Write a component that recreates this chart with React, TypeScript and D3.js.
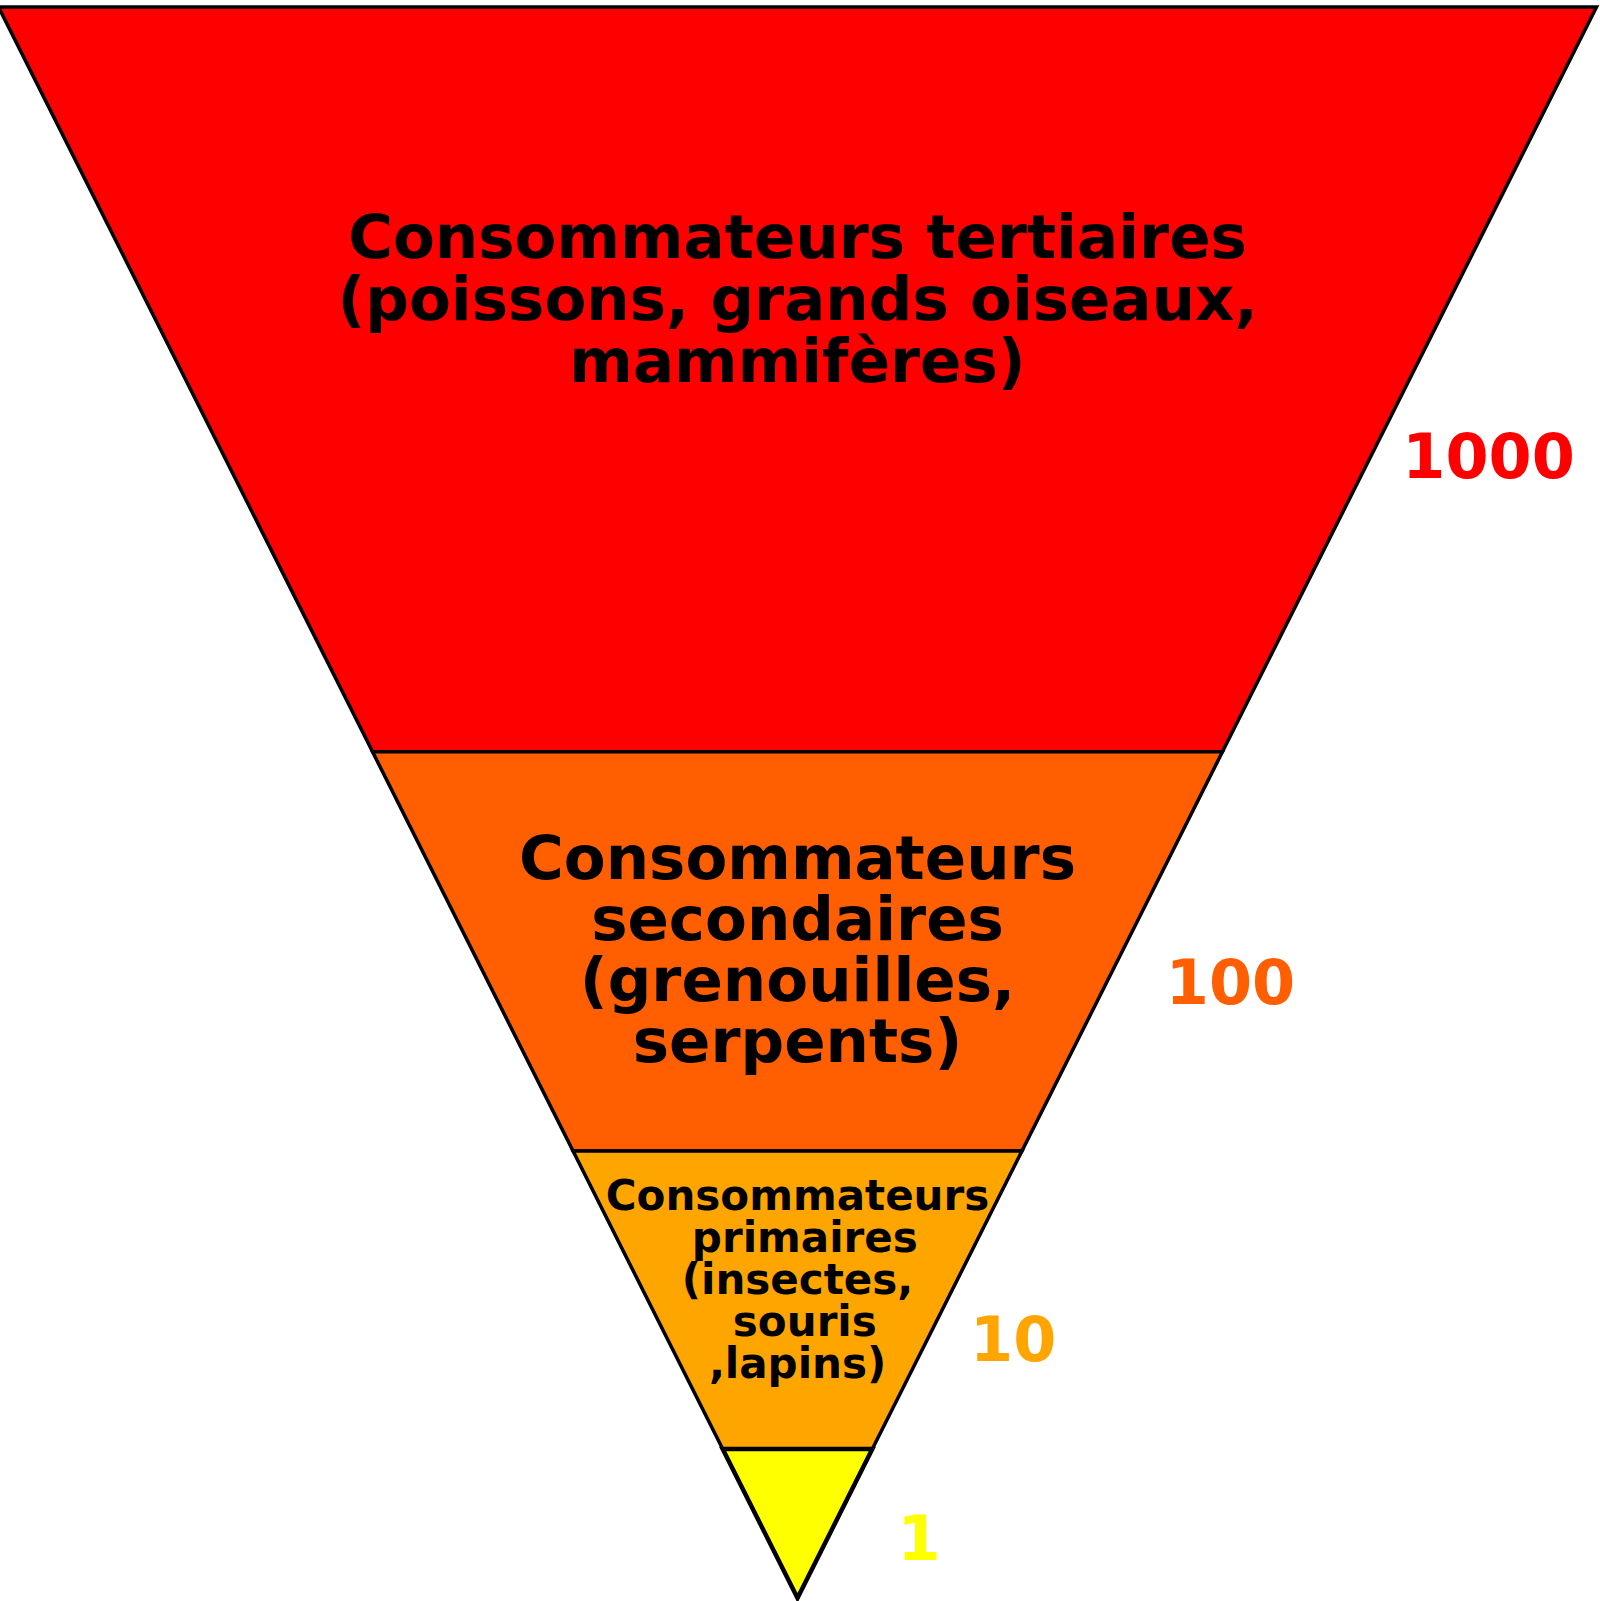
import * as d3 from "d3";

// layers listed from the tip (bottom) to the top of the inverted pyramid
const layerValues = ["1", "10", "100", "1000"];
const layerDepths = [1, 2, 2.68, 5];
const layerColors = ["#ffff00", "#ffa500", "#ff5f00", "#ff0000"];
const layerLabels = [
  [],
  ["Consommateurs", " primaires", "(insectes,", " souris", ",lapins)"],
  ["Consommateurs", "secondaires", "(grenouilles,", "serpents)"],
  ["Consommateurs tertiaires", "(poissons, grands oiseaux,", "mammifères)"],
];

// layout only
const labelFontSize = [0, 42, 61, 61];
const labelLineStep = [0, 42, 61, 62];
const labelBaselineFrac = [0, 0.198, 0.318, 0.337];
const strokeWidths = [4.5, 3.5, 3.5, 3.5];
const valueLabelPos = [
  { x: 0.125, d: 0.255 },
  { x: 0.216, d: 1.59 },
  { x: 0.461, d: 3.99 },
  { x: 0.757, d: 7.52 },
];

const W = 1600;
const H = 1601;
const FONT = "'DejaVu Sans', Verdana, sans-serif";

export default function App() {
  const total = d3.sum(layerDepths);
  const y = d3.scaleLinear().domain([0, total]).range([1598, 7]);
  const x = d3.scaleLinear().domain([-1, 1]).range([-1.5, 1596.5]);
  const half = (d: number) => d / total;

  const cum = d3.cumsum(layerDepths);
  const layers = layerDepths.map((dep, i) => {
    const d0 = i === 0 ? 0 : cum[i - 1];
    const d1 = cum[i];
    return { i, d0, d1 };
  });

  const polygon = (d0: number, d1: number) => {
    const pts: [number, number][] = [
      [x(-half(d1)), y(d1)],
      [x(half(d1)), y(d1)],
      [x(half(d0)), y(d0)],
      [x(-half(d0)), y(d0)],
    ];
    if (d0 === 0) pts.pop();
    return d3.line()(pts) + "Z";
  };

  return (
    <svg
      width={W}
      height={H}
      style={{ position: "absolute", left: 0, top: 0, display: "block", background: "#fff" }}
    >
      {layers
        .slice()
        .reverse()
        .map((l) => (
          <path
            key={"p" + l.i}
            d={polygon(l.d0, l.d1)}
            fill={layerColors[l.i]}
            stroke="#000"
            strokeWidth={strokeWidths[l.i]}
            strokeLinejoin="miter"
          />
        ))}
      {layers.map((l) => {
        const lines = layerLabels[l.i];
        if (!lines.length) return null;
        const fs = labelFontSize[l.i];
        const top = y(l.d1);
        const base = top + (y(l.d0) - top) * labelBaselineFrac[l.i];
        return (
          <text
            key={"t" + l.i}
            x={x(0)}
            y={base}
            textAnchor="middle"
            fontFamily={FONT}
            fontWeight="bold"
            fontSize={fs}
            fill="#000"
            style={{ whiteSpace: "pre" }}
          >
            {lines.map((s, j) => (
              <tspan key={j} x={x(0)} y={base + j * labelLineStep[l.i]}>
                {s}
              </tspan>
            ))}
          </text>
        );
      })}
      {valueLabelPos.map((p, i) => (
        <text
          key={"v" + i}
          x={x(p.x)}
          y={y(p.d)}
          fontFamily={FONT}
          fontWeight="bold"
          fontSize={62}
          fill={layerColors[i]}
        >
          {layerValues[i]}
        </text>
      ))}
    </svg>
  );
}
